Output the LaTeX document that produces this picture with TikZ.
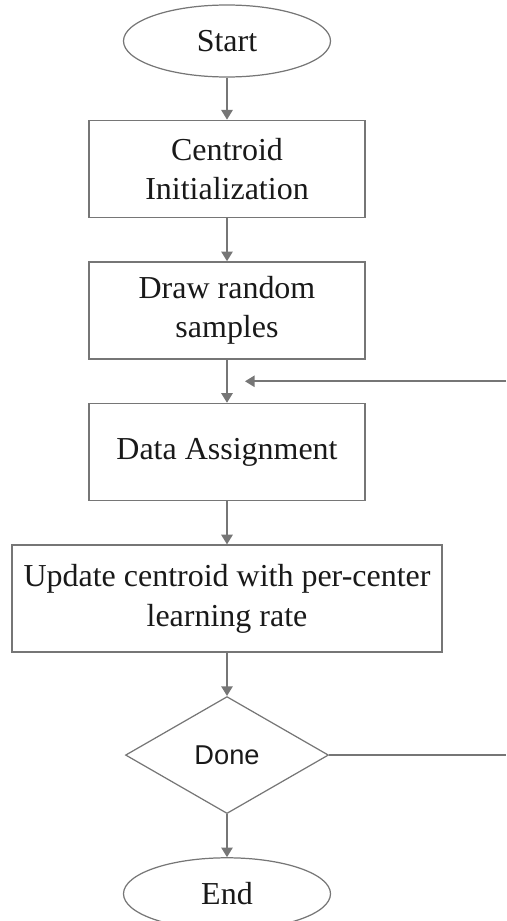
\documentclass[tikz,border=0pt]{standalone}
\usepackage{fontspec}
\setmainfont{Liberation Serif}
\newfontfamily\donefont{Liberation Sans}
\usetikzlibrary{positioning,shapes.geometric,arrows.meta,calc}
\definecolor{linegray}{RGB}{118,118,118}

\begin{document}
\begin{tikzpicture}[
    every node/.style={font=\fontsize{18.2}{22.5}\selectfont, text=black!90},
    term/.style={ellipse, draw=linegray, line width=0.7pt,
      minimum width=4.14cm, minimum height=1.44cm, inner sep=0pt},
    proc/.style={rectangle, draw=linegray, line width=0.9pt,
      minimum width=5.52cm, minimum height=1.94cm, align=center},
    test/.style={diamond, draw=linegray, line width=0.7pt, aspect=1.73,
      minimum width=4.06cm, minimum height=2.34cm, inner sep=0pt},
    flow/.style={draw=linegray, line width=0.9pt,
      -{Triangle[length=5.5pt,width=6.5pt]}},
    node distance=0.86cm]
    \useasboundingbox (0,0) rectangle (10.12,-18.42);
    \clip (0,0) rectangle (10.12,-18.42);
    \coordinate (rightedge) at (10.12,0);
    \node [term] (start) at (4.54,-0.82) {Start};
    \node [proc, below=0.84cm of start] (init) {Centroid\\Initialization};
    \node [proc, below=of init] (sample) {Draw random\\samples};
    \node [proc, below=of sample] (assign) {Data Assignment};
    \node [proc, below=of assign, minimum width=8.6cm, minimum height=2.14cm]
      (update) {Update centroid with per-center\\learning rate};
    \node [test, below=of update, font=\donefont\fontsize{15.5}{18}\selectfont]
      (done) {Done};
    \node [term, below=of done] (end) {End};
      \draw [flow] (start) -- (init);
      \draw [flow] (init) -- (sample);
      \draw [flow] (sample) -- (assign);
      \draw [flow] (assign) -- (update);
      \draw [flow] (update) -- (done);
      \draw [flow] (done) -- (end);
    \coordinate (loopmid) at ($(sample.south)!0.5!(assign.north)$);
    \coordinate (looptip) at ([xshift=0.36cm]loopmid);
    \coordinate (loopin) at (loopmid -| rightedge);
    \coordinate (doneout) at (done.east -| rightedge);
      \draw [draw=linegray, line width=0.8pt] (done.east) -- (doneout);
      \draw [flow] (loopin) -- (looptip);
\end{tikzpicture}
\end{document}
